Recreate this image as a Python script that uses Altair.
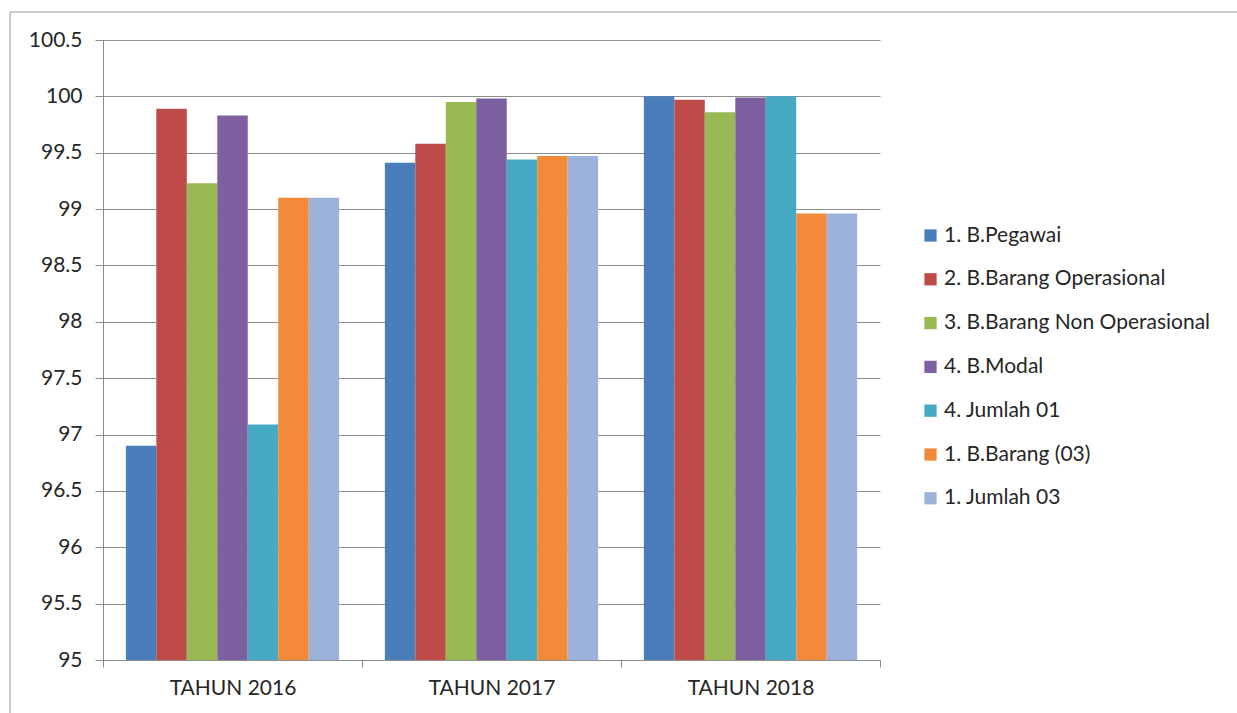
import altair as alt
import pandas as pd

years = ["TAHUN 2016", "TAHUN 2017", "TAHUN 2018"]
series = [
    "1. B.Pegawai",
    "2. B.Barang Operasional",
    "3. B.Barang Non Operasional",
    "4. B.Modal",
    "4. Jumlah 01",
    "1. B.Barang (03)",
    "1. Jumlah 03",
]
pegawai = [96.90, 99.41, 100.0]
barang_operasional = [99.89, 99.58, 99.97]
barang_non_operasional = [99.23, 99.95, 99.86]
modal = [99.83, 99.98, 99.99]
jumlah_01 = [97.09, 99.44, 100.0]
barang_03 = [99.10, 99.47, 98.96]
jumlah_03 = [99.10, 99.47, 98.96]
y_ticks = [95, 95.5, 96, 96.5, 97, 97.5, 98, 98.5, 99, 99.5, 100, 100.5]
colors = ["#4A7EBB", "#BE4B48", "#98B954", "#7D60A0", "#46AAC5", "#F38A3A", "#9CB2DB"]

values = [pegawai, barang_operasional, barang_non_operasional, modal,
          jumlah_01, barang_03, jumlah_03]
rows = []
for s, vals in zip(series, values):
    for y, v in zip(years, vals):
        rows.append({"Tahun": y, "Seri": s, "Nilai": v})
df = pd.DataFrame(rows)

bars = alt.Chart(df).mark_bar(clip=True).encode(
    x=alt.X("Tahun:N", sort=years,
            scale=alt.Scale(paddingInner=0, paddingOuter=0),
            axis=alt.Axis(title=None, labelAngle=0, tickBand="extent",
                          domainColor="#8C8C8C", tickColor="#8C8C8C",
                          tickSize=7, labelPadding=10, labelFontSize=21,
                          grid=False)),
    xOffset=alt.XOffset("Seri:N", sort=series,
                        scale=alt.Scale(paddingInner=0, paddingOuter=0.75)),
    y=alt.Y("Nilai:Q", scale=alt.Scale(domain=[95, 100.5], nice=False, zero=False),
            axis=alt.Axis(title=None, values=y_ticks, format="~g",
                          domainColor="#8C8C8C", tickColor="#8C8C8C",
                          gridColor="#8C8C8C", tickSize=8, labelPadding=13,
                          labelFontSize=21)),
    y2=alt.datum(95),
    color=alt.Color("Seri:N", sort=series,
                    scale=alt.Scale(domain=series, range=colors),
                    legend=alt.Legend(title=None, orient="none", legendX=817,
                                      legendY=185, symbolType="square",
                                      symbolSize=150, symbolStrokeWidth=0,
                                      labelFontSize=21, rowPadding=21.8,
                                      labelOffset=3, padding=0,
                                      labelLimit=400)),
)

border = alt.Chart(pd.DataFrame({"a": [0]})).mark_rect(
    fill=None, stroke="#9A9A9A", strokeWidth=1
).encode(
    x=alt.value(-93), x2=alt.value(1140), y=alt.value(-28), y2=alt.value(700)
)

chart = alt.layer(border, bars).properties(
    width=777, height=620,
    autosize=alt.AutoSizeParams(type="none"),
    padding={"left": 103, "top": 40, "right": 357, "bottom": 53},
).configure(
    font="Lato",
).configure_view(
    stroke=None,
).configure_axis(
    labelColor="#262626",
).configure_legend(
    labelColor="#262626",
)

chart.save("out.html", embed_options={"renderer": "svg", "actions": False})
